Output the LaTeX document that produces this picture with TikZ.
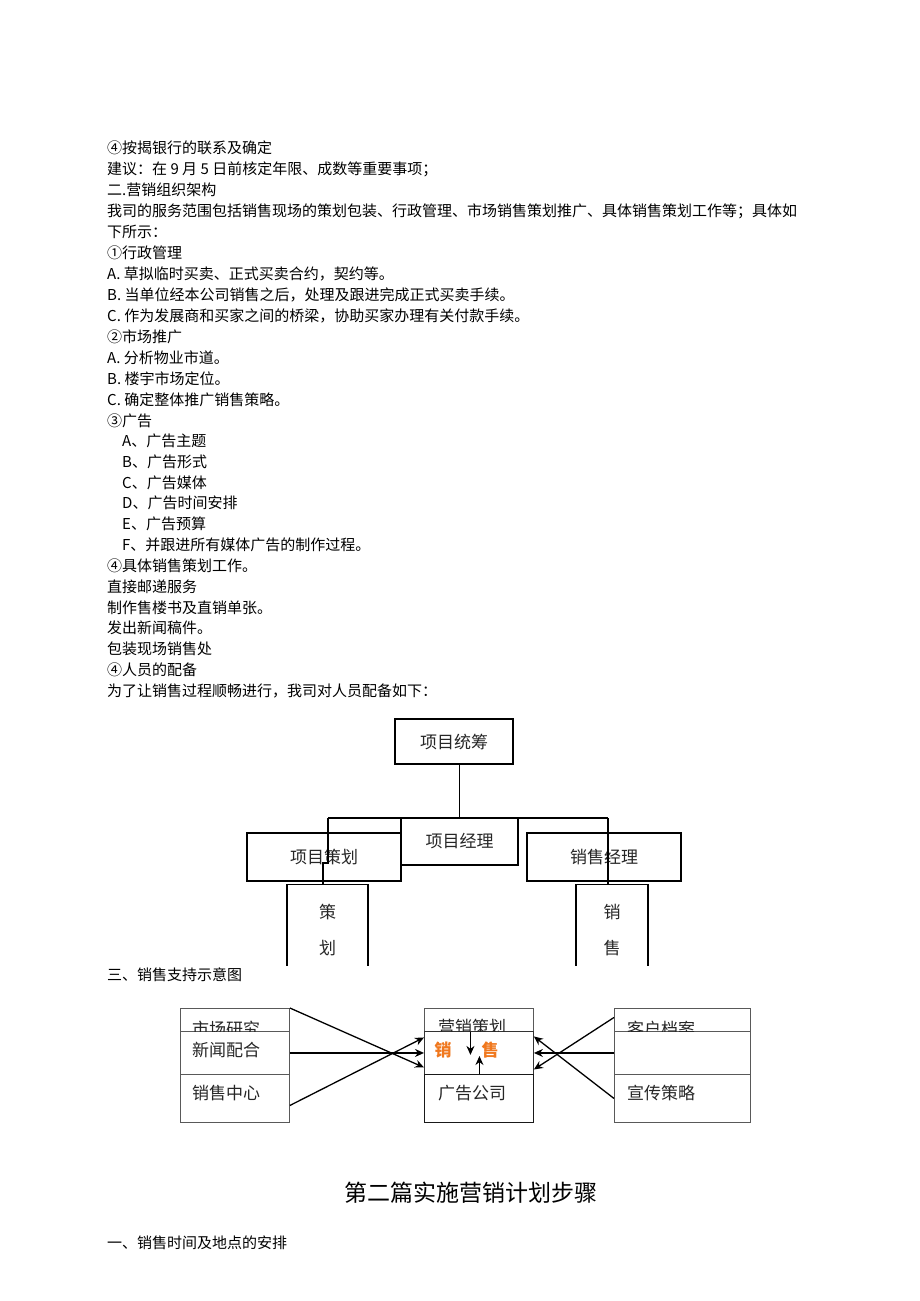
\documentclass[tikz,border=0pt]{standalone}
\usepackage{fontspec}
\setmainfont{Noto Sans CJK SC}
\usetikzlibrary{arrows.meta,positioning}
\definecolor{xsorange}{RGB}{240,120,30}
\tikzset{
  txt/.style={anchor=west,inner sep=0pt,font=\fontsize{15}{18}\selectfont},
  orgbox/.style={draw,line width=1.1pt,inner sep=0pt},
  orgtxt/.style={inner sep=0pt,font=\fontsize{17}{20}\selectfont,text=black!85},
  cellbox/.style={draw=black!65,line width=0.9pt,inner sep=0pt,anchor=north west},
  cell/.style={anchor=west,inner sep=0pt,font=\fontsize{17}{20}\selectfont,text=black!85},
  arr/.style={-{Stealth[length=9pt,width=8pt]},line width=1.3pt},
}
\begin{document}
\begin{tikzpicture}[x=1pt,y=-1pt]
\useasboundingbox[fill=white] (0,0) rectangle (920,1301);
% text of the page
\node[txt] (l1) at (107,148) {④按揭银行的联系及确定};
\node[txt] (l2) at (107,169) {建议：在 9 月 5 日前核定年限、成数等重要事项；};
\node[txt] (l3) at (107,190) {二.营销组织架构};
\node[txt] (l4) at (107,211) {我司的服务范围包括销售现场的策划包装、行政管理、市场销售策划推广、具体销售策划工作等；具体如};
\node[txt] (l5) at (107,232) {下所示：};
\node[txt] (l6) at (107,253) {①行政管理};
\node[txt] (l7) at (107,274) {A. 草拟临时买卖、正式买卖合约，契约等。};
\node[txt] (l8) at (107,295) {B. 当单位经本公司销售之后，处理及跟进完成正式买卖手续。};
\node[txt] (l9) at (107,316) {C. 作为发展商和买家之间的桥梁，协助买家办理有关付款手续。};
\node[txt] (l10) at (107,337) {②市场推广};
\node[txt] (l11) at (107,358) {A. 分析物业市道。};
\node[txt] (l12) at (107,379) {B. 楼宇市场定位。};
\node[txt] (l13) at (107,400) {C. 确定整体推广销售策略。};
\node[txt] (l14) at (107,421) {③广告};
\node[txt] (l15) at (122,441) {A、广告主题};
\node[txt] (l16) at (122,462) {B、广告形式};
\node[txt] (l17) at (122,483) {C、广告媒体};
\node[txt] (l18) at (122,503) {D、广告时间安排};
\node[txt] (l19) at (122,524) {E、广告预算};
\node[txt] (l20) at (122,545) {F、并跟进所有媒体广告的制作过程。};
\node[txt] (l21) at (107,566) {④具体销售策划工作。};
\node[txt] (l22) at (107,587) {直接邮递服务};
\node[txt] (l23) at (107,608) {制作售楼书及直销单张。};
\node[txt] (l24) at (107,628) {发出新闻稿件。};
\node[txt] (l25) at (107,649) {包装现场销售处};
\node[txt] (l26) at (107,670) {④人员的配备};
\node[txt] (l27) at (107,691) {为了让销售过程顺畅进行，我司对人员配备如下：};

% org chart
\node[orgbox,minimum width=118pt,minimum height=45pt] (tc) at (454,741.5) {};
\node[orgtxt] at (tc) {项目统筹};
\node[orgbox,minimum width=154pt,minimum height=48pt] (chj) at (324,857) {};
\node[orgtxt] at (chj) {项目策划};
\node[orgbox,minimum width=154pt,minimum height=48pt] (xsj) at (604,857) {};
\node[orgtxt] at (xsj) {销售经理};
\node[orgbox,minimum width=117pt,minimum height=47pt] (jl) at (459.5,841.5) {};
\node[orgtxt] at (jl) {项目经理};
\begin{scope}
  \clip (0,0) rectangle (920,965);
  \node[orgbox,minimum width=81pt,minimum height=116pt,anchor=north] (ch) at (327.5,884) {};
  \node[orgbox,minimum width=72pt,minimum height=116pt,anchor=north] (xs) at (612,884) {};
\end{scope}
\node[orgtxt] (ch1) at (327.5,912) {策};
\node[orgtxt] (ch2) at (327.5,948) {划};
\node[orgtxt] (xs1) at (612,912) {销};
\node[orgtxt] (xs2) at (612,948) {售};
\coordinate (busL) at (328,818);
\coordinate (busR) at (608,818);
\coordinate (jog) at (323,863);
\draw[line width=1.1pt] (jl.north |- tc.south) -- (jl.north);
\draw[line width=1.1pt] (busL) -- (busR);
\draw[line width=1.1pt] (busL) -- (busL |- jog) -- (jog) -- (jog |- ch.north);
\draw[line width=1.1pt] (busR) -- (busR |- xs.north);

\node[txt] (l28) at (107,975) {三、销售支持示意图};

% support chart
\node[cellbox,minimum width=109pt,minimum height=23pt] (sc) at (180,1008) {};
\node[cellbox,minimum width=109pt,minimum height=43pt] (xw) at (180,1031) {};
\node[cellbox,minimum width=109pt,minimum height=48pt] (xz) at (180,1074) {};
\node[cellbox,minimum width=109pt,minimum height=23pt] (yx) at (424,1008) {};
\node[cellbox,draw=black!80,minimum width=109pt,minimum height=43pt] (xsr) at (424,1031) {};
\node[cellbox,draw=black!90,minimum width=109pt,minimum height=48pt] (gg) at (424,1074) {};
\node[cellbox,minimum width=136pt,minimum height=23pt] (kh) at (614,1008) {};
\node[cellbox,minimum width=136pt,minimum height=43pt] (em) at (614,1031) {};
\node[cellbox,minimum width=136pt,minimum height=48pt] (xc) at (614,1074) {};
\begin{scope}
  \clip (sc.north west) rectangle (kh.south east);
  \node[cell] (sct) at (192,1029) {市场研究};
  \node[cell] (yxt) at (438,1027) {营销策划};
  \node[cell] (kht) at (627,1029) {客户档案};
\end{scope}
\node[cell] (xwt) at (192,1050) {新闻配合};
\node[cell] (xzt) at (192,1093) {销售中心};
\node[cell] (ggt) at (438,1093) {广告公司};
\node[cell] (xct) at (627,1093) {宣传策略};
\node[orgtxt,font=\fontsize{17}{20}\selectfont\bfseries,text=xsorange] (xsa) at (443,1050) {销};
\node[orgtxt,font=\fontsize{17}{20}\selectfont\bfseries,text=xsorange] (xsb) at (490,1050) {售};
\draw[arr] (sc.north east) -- ([yshift=-14.5pt]xsr.west);
\draw[arr] (xw.east) -- (xsr.west);
\draw[arr] ([yshift=-7pt]xz.east) -- ([yshift=15.5pt]xsr.west);
\draw[arr] ([yshift=2.5pt]kh.west) -- ([yshift=-16.5pt]xsr.east);
\draw[arr] (em.west) -- (xsr.east);
\draw[arr] (xc.west) -- ([yshift=16.5pt]xsr.east);
\draw[arr] ([xshift=-8.5pt]yx.south) -- ++(0,23);
\draw[arr] ([xshift=0.5pt]gg.north) -- ++(0,-18);

\node[inner sep=0pt,font=\fontsize{23}{26}\selectfont] (ttl) at (471,1193) {第二篇实施营销计划步骤};
\node[txt] (l29) at (107,1243) {一、销售时间及地点的安排};
\end{tikzpicture}
\end{document}
